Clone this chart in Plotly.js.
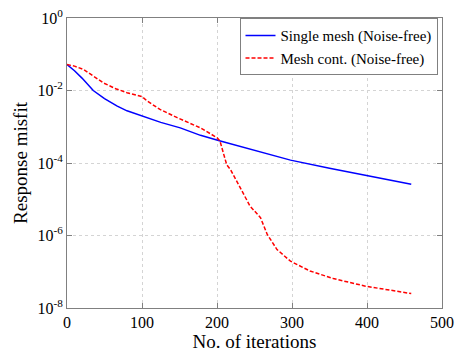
<!DOCTYPE html>
<html>
<head>
<meta charset="utf-8">
<script src="https://cdn.plot.ly/plotly-3.0.1.min.js"></script>
<style>html,body{margin:0;padding:0;background:#fff;}#chart{width:457px;height:353px;}</style>
</head>
<body>
<div id="chart"></div>
<script>
const singleIter = [0, 10, 20, 35, 50, 67, 80, 100, 125, 151, 178, 202, 258, 298, 350, 398, 459];
const singleMisfit = [5.2e-2, 3.5e-2, 2.2e-2, 1.0e-2, 6.0e-3, 3.7e-3, 2.75e-3, 1.95e-3, 1.32e-3, 9.3e-4, 5.8e-4, 4.2e-4, 2.0e-4, 1.2e-4, 7.2e-5, 4.6e-5, 2.6e-5];
const contIter = [0, 10, 22, 35, 49, 65, 80, 100, 107, 124, 147, 178, 200, 204, 213, 218, 231, 244, 258, 267, 280, 298, 324, 355, 398, 459];
const contMisfit = [5.2e-2, 4.7e-2, 3.8e-2, 2.5e-2, 1.6e-2, 1.12e-2, 8.7e-3, 6.8e-3, 5.1e-3, 3.0e-3, 1.78e-3, 9.3e-4, 5.0e-4, 4.0e-4, 8.9e-5, 6.6e-5, 2.1e-5, 6.5e-6, 3.1e-6, 1.07e-6, 4.1e-7, 1.95e-7, 1.05e-7, 6.5e-8, 4.0e-8, 2.5e-8];
const xTicks = [0, 100, 200, 300, 400, 500];
const yTickVals = [1e-8, 1e-6, 1e-4, 1e-2, 1];
const yTickText = ['10<sup>-8</sup>', '10<sup>-6</sup>', '10<sup>-4</sup>', '10<sup>-2</sup>', '10<sup>0</sup>'];
const seriesNames = ['Single mesh (Noise-free)', 'Mesh cont. (Noise-free)'];

const font = 'Liberation Serif';
const traces = [
  {x: singleIter, y: singleMisfit, mode: 'lines', name: seriesNames[0],
   line: {color: '#0000ff', width: 1.5}},
  {x: contIter, y: contMisfit, mode: 'lines', name: seriesNames[1],
   line: {color: '#ff0000', width: 1.5, dash: '4px,2px'}}
];
const axisCommon = {
  showline: true, mirror: 'ticks', linecolor: '#808080', linewidth: 1,
  ticks: 'inside', ticklen: 5, tickcolor: '#808080',
  showgrid: true, gridcolor: '#d4d4d4', griddash: 'dot', gridwidth: 1,
  zeroline: false, tickfont: {family: font, size: 16, color: '#000'}
};
const layout = {
  width: 457, height: 353,
  font: {family: font, size: 14, color: '#000'},
  margin: {l: 67, r: 15, t: 18, b: 45},
  paper_bgcolor: '#fff', plot_bgcolor: '#fff',
  showlegend: true,
  legend: {x: 0.988, y: 0.999, xanchor: 'right', yanchor: 'top',
    bordercolor: '#808080', borderwidth: 1, bgcolor: '#fff',
    font: {family: font, size: 15, color: '#000'},
    tracegroupgap: 0},
  xaxis: Object.assign({}, axisCommon, {
    range: [0, 500], tickvals: xTicks,
    title: {text: 'No. of iterations', font: {family: font, size: 19, color: '#000'}, standoff: 4}
  }),
  yaxis: Object.assign({}, axisCommon, {
    type: 'log', range: [-8, 0], tickvals: yTickVals, ticktext: yTickText,
    title: {text: 'Response misfit', font: {family: font, size: 19, color: '#000'}, standoff: 4}
  })
};
Plotly.newPlot('chart', traces, layout, {displayModeBar: false, staticPlot: true});
</script>
</body>
</html>
